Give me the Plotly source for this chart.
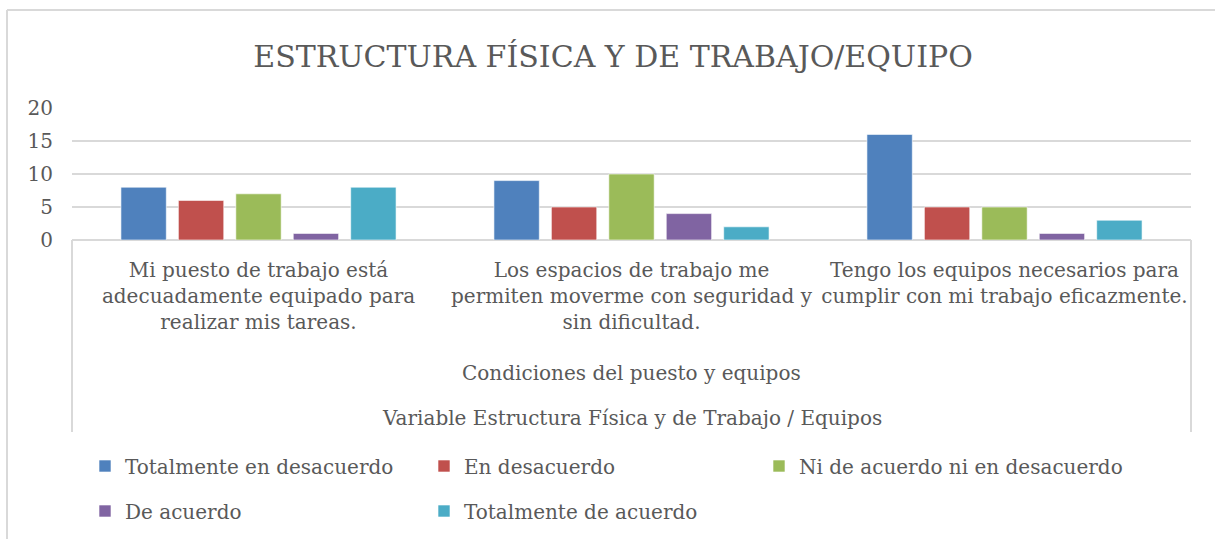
import plotly.graph_objects as go

categories = [
    "Mi puesto de trabajo está<br>adecuadamente equipado para<br>realizar mis tareas.",
    "Los espacios de trabajo me<br>permiten moverme con seguridad y<br>sin dificultad.",
    "Tengo los equipos necesarios para<br>cumplir con mi trabajo eficazmente.",
]
series_names = [
    "Totalmente en desacuerdo",
    "En desacuerdo",
    "Ni de acuerdo ni en desacuerdo",
    "De acuerdo",
    "Totalmente de acuerdo",
]
totalmente_desacuerdo = [8, 9, 16]
en_desacuerdo = [6, 5, 5]
ni_ni = [7, 10, 5]
de_acuerdo = [1, 4, 1]
totalmente_acuerdo = [8, 2, 3]
y_ticks = [0, 5, 10, 15, 20]
title_text = "ESTRUCTURA FÍSICA Y DE TRABAJO/EQUIPO"
axis_title_1 = "Condiciones del puesto y equipos"
axis_title_2 = "Variable Estructura Física y de Trabajo / Equipos"

values = [totalmente_desacuerdo, en_desacuerdo, ni_ni, de_acuerdo, totalmente_acuerdo]
colors = ["#4F81BD", "#C0504D", "#9BBB59", "#8064A2", "#4BACC6"]
legend_ids = ["legend", "legend2", "legend3", "legend4", "legend5"]
# legend entry positions (pixels in the page): left edge x, row centre y
legend_pos = [(85, 466), (424, 466), (759, 466), (85, 511), (424, 511)]

FONT = "DejaVu Serif"
TXT = "#595959"
GRID = "#D9D9D9"

W, H = 1215, 539
L, R, T, B = 72, 1191, 108, 240
pw, ph = R - L, B - T

def px_x(x):
    return (x - L) / pw

def px_y(y):
    return (B - y) / ph

fig = go.Figure()
for name, vals, col, lg in zip(series_names, values, colors, legend_ids):
    fig.add_trace(go.Bar(
        x=categories, y=vals, name=name, legend=lg,
        marker=dict(color=col, line=dict(color="rgba(255,255,255,0.6)", width=1)),
    ))

shapes = [
    dict(type="line", xref="paper", yref="paper", x0=0, x1=0, y0=0, y1=px_y(432),
         line=dict(color=GRID, width=2)),
    dict(type="line", xref="paper", yref="paper", x0=1, x1=1, y0=0, y1=px_y(432),
         line=dict(color=GRID, width=2)),
    dict(type="line", xref="paper", yref="paper", x0=px_x(7), x1=px_x(7), y0=px_y(10), y1=px_y(545),
         line=dict(color=GRID, width=2)),
    dict(type="line", xref="paper", yref="paper", x0=px_x(7), x1=px_x(1220), y0=px_y(10), y1=px_y(10),
         line=dict(color=GRID, width=2)),
]

annotations = [
    dict(text=axis_title_1, xref="paper", yref="paper", x=0.5, y=px_y(373),
         xanchor="center", yanchor="middle", showarrow=False,
         font=dict(family=FONT, size=20, color=TXT)),
    dict(text=axis_title_2, xref="paper", yref="paper", x=0.5, y=px_y(418),
         xanchor="center", yanchor="middle", showarrow=False,
         font=dict(family=FONT, size=20, color=TXT)),
]

legend_layout = {}
for lg, (lx, ly) in zip(legend_ids, legend_pos):
    legend_layout[lg] = dict(
        orientation="h", xanchor="left", yanchor="middle",
        xref="container", yref="container",
        x=lx / W, y=1 - ly / H,
        font=dict(family=FONT, size=20, color=TXT),
        bgcolor="rgba(0,0,0,0)", itemclick=False, itemdoubleclick=False,
    )

fig.update_layout(
    width=W, height=H, autosize=False,
    margin=dict(l=L, r=W - R, t=T, b=H - B, pad=0),
    paper_bgcolor="white", plot_bgcolor="white",
    barmode="group", bargap=0.23, bargroupgap=0.21,
    title=dict(text=title_text, x=613 / W, xanchor="center", xref="container",
               y=1 - 56 / H, yanchor="middle",
               font=dict(family=FONT, size=30, color=TXT)),
    font=dict(family=FONT, size=20, color=TXT),
    xaxis=dict(showgrid=False, showline=False, zeroline=False, ticks="",
               tickfont=dict(family=FONT, size=20, color=TXT),
               ticklabelstandoff=16, fixedrange=True),
    yaxis=dict(range=[0, 20], tickvals=y_ticks, showgrid=True, gridcolor=GRID, gridwidth=2,
               zeroline=True, zerolinecolor=GRID, zerolinewidth=2, showline=False,
               ticks="", tickfont=dict(family=FONT, size=20, color=TXT),
               ticklabelstandoff=18, fixedrange=True),
    shapes=shapes,
    annotations=annotations,
    showlegend=True,
    **legend_layout,
)

fig.write_html("out.html", config={"displayModeBar": False},
               post_script="document.body.style.margin='0';")
